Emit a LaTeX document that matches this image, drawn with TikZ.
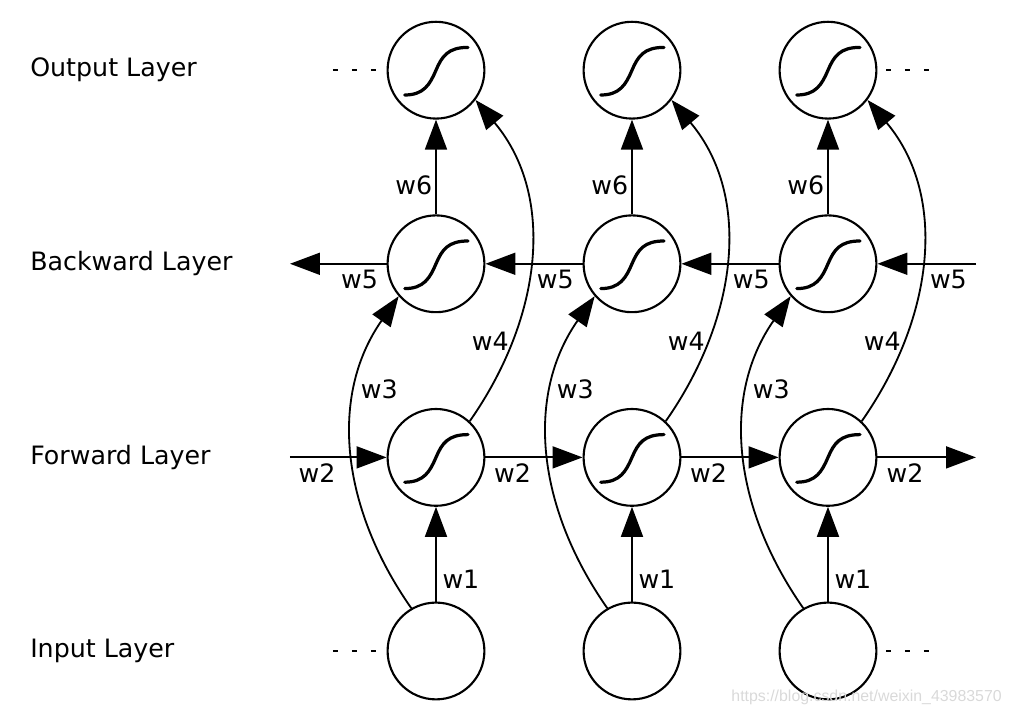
\documentclass[tikz,border=0pt]{standalone}
\usepackage{fontspec}
\setmainfont{DejaVu Sans}
\newfontfamily\wmfont{Liberation Sans}
\usetikzlibrary{arrows.meta}
\tikzset{>={Triangle[length=0.75cm,width=0.55cm]}}
\tikzset{
	neuron/.style={circle, draw, line width=1.5pt, minimum size=2.42cm, inner sep=0pt},
	wire/.style={->, line width=1.3pt},
	weight/.style={font=\fontsize{18}{22}\selectfont, inner sep=2pt},
	layer/.style={font=\fontsize{18}{22}\selectfont, anchor=west, inner sep=0pt},
	ellipsis/.style={line width=1.2pt, dash pattern=on 3.6pt off 9.9pt}
}
\newcommand{\sigmoid}[1]{% {node}
	\draw[line width=2.3pt, line cap=round, shift={(#1)}] (-0.78,-0.62) .. controls (-0.3,-0.62) and (-0.15,-0.35) .. (0,0) .. controls (0.15,0.35) and (0.3,0.57) .. (0.8,0.57); % activation
}

\begin{document}
\begin{tikzpicture}
	\useasboundingbox (-10.9,-1.6) rectangle (14.375,16.275);

	% neurons
	\node[neuron] (in1) at (0,0) {};
	\node[neuron] (in2) at (4.9,0) {};
	\node[neuron] (in3) at (9.8,0) {};
	\node[neuron] (fw1) at (0,4.84) {};
	\node[neuron] (fw2) at (4.9,4.84) {};
	\node[neuron] (fw3) at (9.8,4.84) {};
	\node[neuron] (bw1) at (0,9.68) {};
	\node[neuron] (bw2) at (4.9,9.68) {};
	\node[neuron] (bw3) at (9.8,9.68) {};
	\node[neuron] (out1) at (0,14.52) {};
	\node[neuron] (out2) at (4.9,14.52) {};
	\node[neuron] (out3) at (9.8,14.52) {};

	\sigmoid{fw1} \sigmoid{fw2} \sigmoid{fw3}
	\sigmoid{bw1} \sigmoid{bw2} \sigmoid{bw3}
	\sigmoid{out1} \sigmoid{out2} \sigmoid{out3}

	\node[layer] (lout) at (-10.15,14.52) {Output Layer};
	\node[layer] (lbw) at (-10.15,9.68) {Backward Layer};
	\node[layer] (lfw) at (-10.15,4.84) {Forward Layer};
	\node[layer] (lin) at (-10.15,0) {Input Layer};

	\coordinate (fwin) at (-3.65,4.84);
	\coordinate (fwout) at (13.5,4.84);
	\coordinate (bwin) at (13.5,9.68);
	\coordinate (bwout) at (-3.65,9.68);

	% w1
	\draw[wire] (in1) -- (fw1) node[weight, pos=0.23, right=2pt] {w1};
	\draw[wire] (in2) -- (fw2) node[weight, pos=0.23, right=2pt] {w1};
	\draw[wire] (in3) -- (fw3) node[weight, pos=0.23, right=2pt] {w1};

	% w2
	\draw[wire] (fwin) -- (fw1) node[weight, pos=0.28, below=2pt] {w2};
	\draw[wire] (fw1) -- (fw2) node[weight, pos=0.28, below=2pt] {w2};
	\draw[wire] (fw2) -- (fw3) node[weight, pos=0.28, below=2pt] {w2};
	\draw[wire] (fw3) -- (fwout) node[weight, pos=0.28, below=2pt] {w2};

	% w5
	\draw[wire] (bwin) -- (bw3) node[weight, pos=0.28, below=2pt] {w5};
	\draw[wire] (bw3) -- (bw2) node[weight, pos=0.28, below=2pt] {w5};
	\draw[wire] (bw2) -- (bw1) node[weight, pos=0.28, below=2pt] {w5};
	\draw[wire] (bw1) -- (bwout) node[weight, pos=0.28, below=2pt] {w5};

	% w6
	\draw[wire] (bw1) -- (out1) node[weight, pos=0.31, left] {w6};
	\draw[wire] (bw2) -- (out2) node[weight, pos=0.31, left] {w6};
	\draw[wire] (bw3) -- (out3) node[weight, pos=0.31, left] {w6};

	% w3
	\draw[wire] (in1.120) to[out=125,in=235] node[weight, pos=0.7, right] {w3} (bw1.221);
	\draw[wire] (in2.120) to[out=125,in=235] node[weight, pos=0.7, right] {w3} (bw2.221);
	\draw[wire] (in3.120) to[out=125,in=235] node[weight, pos=0.7, right] {w3} (bw3.221);

	% w4
	\draw[wire] (fw1.47) to[out=55,in=-50] node[weight, pos=0.25, left] {w4} (out1.-37);
	\draw[wire] (fw2.47) to[out=55,in=-50] node[weight, pos=0.25, left] {w4} (out2.-37);
	\draw[wire] (fw3.47) to[out=55,in=-50] node[weight, pos=0.25, left] {w4} (out3.-37);

	% time goes on
	\draw[ellipsis] ([xshift=-2.575cm]out1.center) -- ++(1.125,0);
	\draw[ellipsis] ([xshift=1.45cm]out3.center) -- ++(1.125,0);
	\draw[ellipsis] ([xshift=-2.575cm]in1.center) -- ++(1.125,0);
	\draw[ellipsis] ([xshift=1.45cm]in3.center) -- ++(1.125,0);

	\node[anchor=east, inner sep=0pt, text=gray!30, font=\wmfont\fontsize{11.3}{13}\selectfont] (wm) at (14.15,-1.15) {https://blog.csdn.net/weixin\_43983570};
\end{tikzpicture}
\end{document}
